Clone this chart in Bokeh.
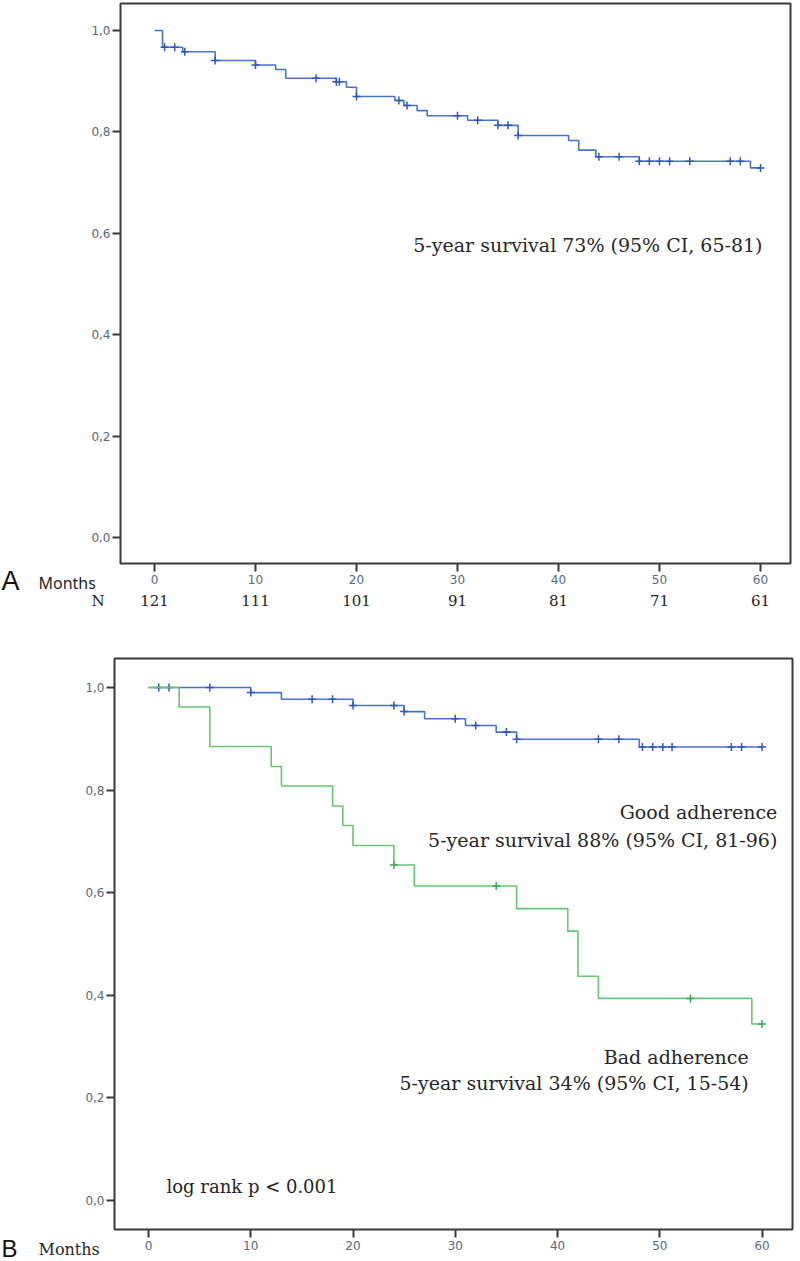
import numpy as np
from bokeh.plotting import figure
from bokeh.layouts import column
from bokeh.models import Range1d, FixedTicker, CustomJSTickFormatter, Label
from bokeh.embed import file_html
from bokeh.resources import INLINE

# ---------------- data ----------------
month_ticks = [0, 10, 20, 30, 40, 50, 60]
y_ticks = [0.0, 0.2, 0.4, 0.6, 0.8, 1.0]
a_at_risk = ["121", "111", "101", "91", "81", "71", "61"]

# Panel A: all patients
a_times = [0, 0.8, 2.8, 6.0, 10.0, 12.0, 13.0, 18.0, 19.0, 20.0, 23.8, 24.7,
           26.0, 27.0, 31.0, 34.0, 36.0, 41.0, 42.0, 43.7, 48.0, 59.0, 60.0]
a_surv = [1.0, 0.967, 0.958, 0.941, 0.932, 0.923, 0.906, 0.899, 0.888, 0.870,
          0.862, 0.852, 0.842, 0.832, 0.823, 0.813, 0.793, 0.783, 0.764, 0.751,
          0.742, 0.729, 0.729]
a_censored = [1.0, 2.0, 3.0, 6.0, 10.0, 16.0, 18.0, 18.3, 20.0, 24.2, 25.0, 30.0,
              32.0, 34.0, 35.0, 36.0, 44.0, 46.0, 48.0, 49.0, 50.0, 51.0, 53.0,
              57.0, 58.0, 60.0]

# Panel B: good adherence
good_times = [0, 10.0, 13.0, 20.0, 25.0, 27.0, 31.0, 34.0, 36.0, 48.0, 60.0]
good_surv = [1.0, 0.990, 0.977, 0.965, 0.953, 0.939, 0.926, 0.913, 0.899, 0.884, 0.884]
good_censored = [1.0, 2.0, 6.0, 10.0, 16.0, 18.0, 20.0, 24.0, 25.0, 30.0, 32.0,
                 35.0, 36.0, 44.0, 46.0, 48.3, 49.3, 50.3, 51.2, 57.0, 58.0, 60.0]

# Panel B: bad adherence
bad_times = [0, 3.0, 6.0, 12.0, 13.0, 18.0, 19.0, 20.0, 24.0, 26.0, 36.0, 41.0,
             42.0, 44.0, 59.0, 60.0]
bad_surv = [1.0, 0.962, 0.885, 0.846, 0.808, 0.769, 0.731, 0.692, 0.654, 0.613,
            0.569, 0.525, 0.437, 0.394, 0.344, 0.344]
bad_censored = [24.0, 34.0, 53.0, 60.0]

BLUE = "#4a72c9"
BLUE_MARK = "#2f57b3"
GREEN = "#66c577"
GREEN_MARK = "#3aa852"
TEXT = "#262626"
TICK_TEXT = "#5a6878"
FRAME = "#3a3a3a"
SERIF = "DejaVu Serif"


def level(times, surv, t):
    idx = np.searchsorted(np.asarray(times), np.asarray(t), side="right") - 1
    return np.asarray(surv)[idx]


def make_fig(width, height, xr, yr, mbl, mbr, mbt, mbb):
    p = figure(width=width, height=height, x_range=Range1d(*xr), y_range=Range1d(*yr),
               output_backend="svg", toolbar_location=None,
               min_border_left=mbl, min_border_right=mbr,
               min_border_top=mbt, min_border_bottom=mbb)
    p.frame_align = False
    p.grid.visible = False
    p.background_fill_color = "white"
    p.border_fill_color = "white"
    p.outline_line_color = FRAME
    p.outline_line_width = 2
    p.xaxis.ticker = FixedTicker(ticks=month_ticks)
    p.yaxis.ticker = FixedTicker(ticks=y_ticks)
    p.yaxis.formatter = CustomJSTickFormatter(code="return tick.toFixed(1).replace('.', ',');")
    for ax in p.axis:
        ax.axis_line_color = None
        ax.major_tick_out = 8
        ax.major_tick_in = 0
        ax.minor_tick_out = 0
        ax.minor_tick_in = 0
        ax.major_tick_line_color = FRAME
        ax.major_tick_line_width = 2
        ax.major_label_text_font = "DejaVu Sans"
        ax.major_label_text_font_size = "12px"
        ax.major_label_text_color = TICK_TEXT
    p.xaxis.major_label_standoff = 3
    p.yaxis.major_label_standoff = 2
    return p


def overlay_fig(width, height, xr, top_overlap):
    # transparent strip laid over the bottom margin of the panel above it
    t = figure(width=width, height=height, x_range=Range1d(*xr), y_range=Range1d(0, 1),
               output_backend="svg", toolbar_location=None,
               x_axis_location=None, y_axis_location=None,
               min_border=0, min_border_left=0, min_border_right=0,
               min_border_top=0, min_border_bottom=0)
    t.frame_align = False
    t.grid.visible = False
    t.outline_line_color = None
    t.background_fill_color = None
    t.border_fill_color = None
    t.margin = (-top_overlap, 0, 0, 0)
    return t


def km(p, times, surv, cens, color, mark_color):
    p.step(times, surv, mode="after", line_color=color, line_width=1.6)
    p.scatter(cens, level(times, surv, cens), marker="cross", size=8,
              line_color=mark_color, line_width=1.5)


def label(p, text, x, y, size, align="left", baseline="middle", units="data",
          font=SERIF, xunits=None, color=TEXT):
    p.add_layout(Label(x=x, y=y, text=text, x_units=xunits or units, y_units=units,
                       text_font=font, text_font_size=size, text_align=align,
                       text_baseline=baseline, text_color=color))


# ---------------- panel A ----------------
H1 = 625
pA = make_fig(800, H1, (-3.366, 62.97), (-0.0513, 1.0533), 120, 10, 3, 62)
km(pA, a_times, a_surv, a_censored, BLUE, BLUE_MARK)
label(pA, "5-year survival 73% (95% CI, 65-81)", 60.2, 0.576, "19px", align="right")

# strip below panel A (page y 563..625): panel letter, row titles, numbers at risk
TA = 62
tA = overlay_fig(800, TA, (-154 / 10.1, (800 - 154) / 10.1), TA)
label(tA, "A", 1, TA - (580 - 563), "27px", units="screen", font="Liberation Sans", color="#111111")
label(tA, "Months", 38, TA - (582 - 563), "16px", units="screen", font="Noto Sans")
label(tA, "N", 104, TA - (600 - 563), "15px", align="right", units="screen")
for t, n in zip(month_ticks, a_at_risk):
    label(tA, n, t, TA - (600 - 563), "15px", align="center", units="screen", xunits="data")

# ---------------- panel B ----------------
H2 = 636
pB = make_fig(800, H2, (-3.325, 62.98), (-0.0565, 1.0565), 114, 8, 33, 32)
km(pB, good_times, good_surv, good_censored, BLUE, BLUE_MARK)
km(pB, bad_times, bad_surv, bad_censored, GREEN, GREEN_MARK)
label(pB, "Good adherence", 61.5, 0.757, "19px", align="right")
label(pB, "5-year survival 88% (95% CI, 81-96)", 61.5, 0.702, "19px", align="right")
label(pB, "Bad adherence", 58.7, 0.279, "19px", align="right")
label(pB, "5-year survival 34% (95% CI, 15-54)", 58.7, 0.230, "19px", align="right")
label(pB, "log rank p < 0.001", 1.76, 0.027, "18px")

# strip below panel B frame (page y 1229..1261)
TB = 32
tB = overlay_fig(800, TB, (-148 / 10.225, (800 - 148) / 10.225), TB)
label(tB, "B", 1, TB - (1248 - 1229), "24px", units="screen", font="Liberation Sans", color="#111111")
label(tB, "Months", 38, TB - (1249 - 1229), "16px", units="screen")

layout = column(pA, tA, pB, tB)
open("out.html", "w").write(file_html(layout, INLINE))
